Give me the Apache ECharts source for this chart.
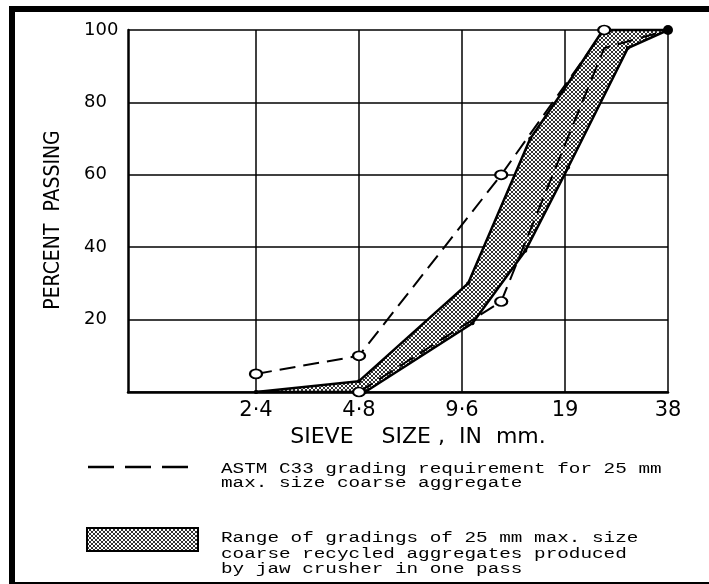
<!DOCTYPE html>
<html>
<head>
<meta charset="utf-8">
<script src="https://cdn.jsdelivr.net/npm/echarts@6/dist/echarts.min.js"></script>
<style>
html, body { margin: 0; padding: 0; background: #fff; }
#main { width: 709px; height: 584px; }
</style>
</head>
<body>
<div id="main"></div>
<script>
var sieveTicks = [2.4, 4.8, 9.6, 19.2, 38.4];
var sieveLabels = ['2·4', '4·8', '9·6', '19', '38'];

// ASTM C33 grading limits (25 mm max size)
var astmUpperSize = [2.4, 4.8, 12.5, 25, 38.4];
var astmUpperPct = [5, 10, 60, 100, 100];
var astmLowerSize = [4.8, 12.5, 25, 38.4];
var astmLowerPct = [0, 25, 95, 100];

// range of recycled aggregate gradings (jaw crusher)
var bandUpperSize = [2.4, 4.8, 10.0, 15.2, 18.9, 24.8, 38.4];
var bandUpperPct = [0, 3, 30, 70, 83, 100, 100];
var bandLowerSize = [2.4, 5.0, 10.3, 14.7, 19.6, 29.3, 38.4];
var bandLowerPct = [0, 0, 19, 39, 62, 95, 100];

// sieve sizes double each step, so plot them on a base 2 log scale
function lg(s) { return Math.log(s / 2.4) / Math.LN2; }
function pts(sizes, pcts) {
    return sizes.map(function (s, i) { return [lg(s), pcts[i]]; });
}

// dotted fill for the band
var tile = document.createElement('canvas');
tile.width = 4; tile.height = 4;
var g = tile.getContext('2d');
g.fillStyle = '#fff';
g.fillRect(0, 0, 4, 4);
g.fillStyle = '#333';
[[0, 0], [1, 1], [2, 2], [3, 3], [3, 0], [2, 1], [1, 2], [0, 3]].forEach(function (p) {
    g.fillRect(p[0], p[1], 1, 1);
});
var dots = { image: tile, repeat: 'repeat' };

var tickPos = sieveTicks.map(lg);
var upperPts = pts(bandUpperSize, bandUpperPct);
var lowerPts = pts(bandLowerSize, bandLowerPct);

var myChart = echarts.init(document.getElementById('main'));

var astmUpperData = pts(astmUpperSize, astmUpperPct).map(function (p, i) {
    if (i === astmUpperSize.length - 1) {
        return { value: p, symbol: 'circle', symbolSize: 10 };
    }
    return p;
});
// only the two lower points carry a circle
var astmLowerData = pts(astmLowerSize, astmLowerPct).map(function (p, i) {
    if (i >= 2) return { value: p, symbol: 'none' };
    return p;
});

option = {
    backgroundColor: '#fff',
    animation: false,
    grid: { left: 128, right: 41, top: 30, bottom: 192 },
    xAxis: {
        type: 'value',
        min: -1.2427,
        max: 4,
        axisLine: { onZero: false, lineStyle: { color: '#000', width: 2.5 } },
        axisTick: { show: false, customValues: tickPos },
        axisLabel: {
            customValues: tickPos,
            color: '#000',
            fontFamily: 'DejaVu Sans',
            fontSize: 21,
            margin: 8,
            formatter: function (v) { return sieveLabels[Math.round(v)]; }
        },
        splitLine: { show: true, lineStyle: { color: '#000', width: 1.5 } },
        name: 'SIEVE    SIZE ,  IN  mm.',
        nameLocation: 'middle',
        nameGap: 33,
        nameTextStyle: {
            color: '#000',
            fontFamily: 'DejaVu Sans',
            fontSize: 22,
            padding: [0, 0, 0, 40]
        }
    },
    yAxis: {
        type: 'value',
        min: 0,
        max: 100,
        interval: 20,
        axisLine: { show: true, onZero: false, lineStyle: { color: '#000', width: 2.5 } },
        axisTick: { show: false },
        axisLabel: {
            color: '#000',
            fontFamily: 'DejaVu Sans',
            fontSize: 18,
            align: 'left',
            margin: 44,
            formatter: function (v) { return v === 0 ? '' : v; }
        },
        splitLine: { lineStyle: { color: '#000', width: 1.5 } },
        name: 'PERCENT  PASSING',
        nameLocation: 'middle',
        nameRotate: 90,
        nameGap: 64,
        nameTextStyle: {
            color: '#000',
            fontFamily: "'Liberation Sans Narrow', 'DejaVu Sans Condensed', 'Liberation Sans'",
            fontSize: 21,
            padding: [0, 18, 0, 0]
        }
    },
    graphic: [
        { type: 'rect', shape: { x: 9, y: 6, width: 700, height: 6 }, style: { fill: '#000' } },
        { type: 'rect', shape: { x: 9, y: 6, width: 6, height: 578 }, style: { fill: '#000' } },
        { type: 'rect', shape: { x: 9, y: 582, width: 700, height: 2 }, style: { fill: '#000' } },
        {
            type: 'line',
            shape: { x1: 88, y1: 467, x2: 188, y2: 467 },
            style: { stroke: '#000', lineWidth: 2.5, lineDash: [26, 11] }
        },
        {
            type: 'text', x: 221, y: 462, scaleX: 1.38,
            style: {
                text: 'ASTM C33 grading requirement for 25 mm\nmax. size coarse aggregate',
                font: '14px "Liberation Mono"', fill: '#000', lineHeight: 14.5
            }
        },
        {
            type: 'rect',
            shape: { x: 87, y: 528, width: 111, height: 23 },
            style: { fill: dots, stroke: '#000', lineWidth: 2 }
        },
        {
            type: 'text', x: 221, y: 531, scaleX: 1.38,
            style: {
                text: 'Range of gradings of 25 mm max. size\ncoarse recycled aggregates produced\nby jaw crusher in one pass',
                font: '14px "Liberation Mono"', fill: '#000', lineHeight: 15.5
            }
        }
    ],
    series: [
        {
            name: 'range',
            type: 'custom',
            data: [[0, 0]],
            renderItem: function (params, api) {
                var poly = [];
                upperPts.forEach(function (p) { poly.push(api.coord(p)); });
                lowerPts.slice().reverse().forEach(function (p) { poly.push(api.coord(p)); });
                return { type: 'polygon', shape: { points: poly }, style: { fill: dots, stroke: null } };
            }
        },
        {
            name: 'range upper',
            type: 'line',
            data: upperPts,
            clip: false,
            symbol: 'circle',
            symbolSize: 4,
            itemStyle: { color: '#000' },
            lineStyle: { color: '#000', width: 2.5 }
        },
        {
            name: 'range lower',
            type: 'line',
            data: lowerPts,
            clip: false,
            symbol: 'circle',
            symbolSize: 4,
            itemStyle: { color: '#000' },
            lineStyle: { color: '#000', width: 2.5 }
        },
        {
            name: 'ASTM lower',
            type: 'line',
            data: astmLowerData,
            clip: false,
            symbol: 'emptyCircle',
            symbolSize: [12, 9],
            itemStyle: { color: '#000', borderWidth: 1.5 },
            lineStyle: { color: '#000', width: 2, type: [16, 8] }
        },
        {
            name: 'ASTM upper',
            type: 'line',
            data: astmUpperData,
            clip: false,
            symbol: 'emptyCircle',
            symbolSize: [12, 9],
            itemStyle: { color: '#000', borderWidth: 1.5 },
            lineStyle: { color: '#000', width: 2, type: [16, 8] }
        }
    ]
};

myChart.setOption(option);
</script>
</body>
</html>
